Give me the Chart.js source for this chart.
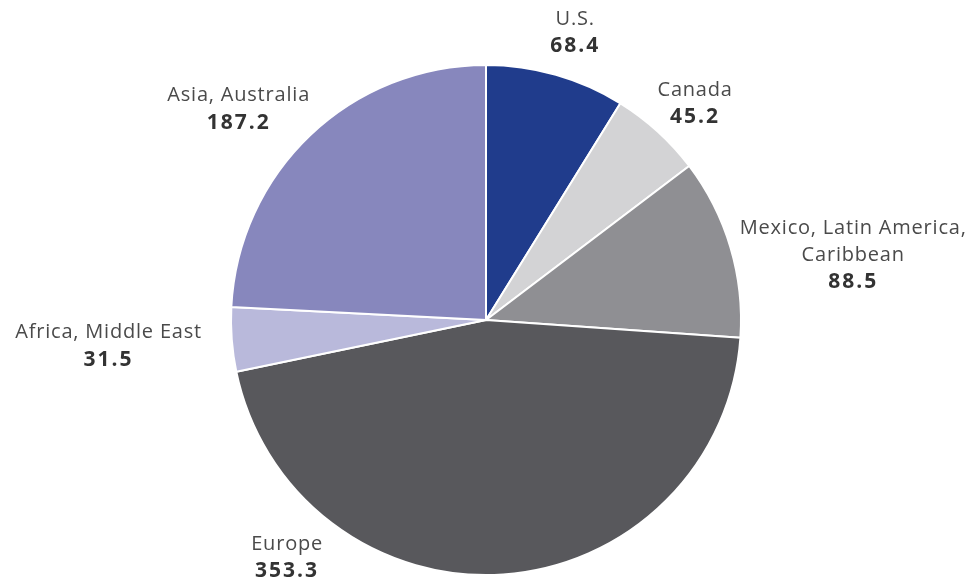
<!DOCTYPE html>
<html lang="en">
<head>
  <meta charset="UTF-8">
  <title>Regions pie</title>
  <script src="https://cdn.jsdelivr.net/npm/chart.js"></script>
  <style>
    html, body { margin: 0; padding: 0; background: #fff; }
    #chart-container { width: 977px; height: 583px; position: relative; }
  </style>
</head>
<body>
  <div id="chart-container">
    <canvas id="regionChart"></canvas>
  </div>

  <script>
    // data
    const regions = ['U.S.', 'Canada', 'Mexico, Latin America, Caribbean', 'Europe', 'Africa, Middle East', 'Asia, Australia'];
    const labelLines = [['U.S.'], ['Canada'], ['Mexico, Latin America,', 'Caribbean'], ['Europe'], ['Africa, Middle East'], ['Asia, Australia']];
    const amounts = [68.4, 45.2, 88.5, 353.3, 31.5, 187.2];
    const sliceColors = ['#203c8c', '#d3d3d5', '#8f8f93', '#58585c', '#b9b9db', '#8787bd'];

    // where each label sits, relative to the pie centre in radius units (top line)
    const labelOffsets = [[0.35, -1.18], [0.82, -0.9], [1.44, -0.36], [-0.78, 0.88], [-1.48, 0.05], [-0.97, -0.88]];

    // draws the text labels next to the slices
    const outsideLabels = {
      id: 'outsideLabels',
      afterDraw(chart) {
        const ctx = chart.ctx;
        const arcs = chart.getDatasetMeta(0).data;
        ctx.save();
        ctx.textAlign = 'center';
        ctx.textBaseline = 'middle';
        arcs.forEach((arc, i) => {
          const x = arc.x + labelOffsets[i][0] * arc.outerRadius;
          let y = arc.y + labelOffsets[i][1] * arc.outerRadius;
          ctx.font = '20px "Open Sans"';
          ctx.letterSpacing = '0.8px';
          ctx.fillStyle = '#4a4a4a';
          labelLines[i].forEach(line => {
            ctx.fillText(line, x, y);
            y += 27;
          });
          ctx.font = 'bold 21px "Open Sans"';
          ctx.letterSpacing = '2px';
          ctx.fillStyle = '#333333';
          ctx.fillText(amounts[i].toFixed(1), x, y);
        });
        ctx.restore();
      }
    };

    const ctx = document.getElementById('regionChart').getContext('2d');
    new Chart(ctx, {
      type: 'pie',
      data: {
        labels: regions,
        datasets: [{
          data: amounts,
          backgroundColor: sliceColors,
          borderColor: '#ffffff',
          borderWidth: 2
        }]
      },
      options: {
        responsive: true,
        maintainAspectRatio: false,
        animation: false,
        layout: { padding: { top: 64, bottom: 7, left: 0, right: 5 } },
        plugins: {
          legend: { display: false },
          tooltip: { enabled: false }
        }
      },
      plugins: [outsideLabels]
    });
  </script>
</body>
</html>
